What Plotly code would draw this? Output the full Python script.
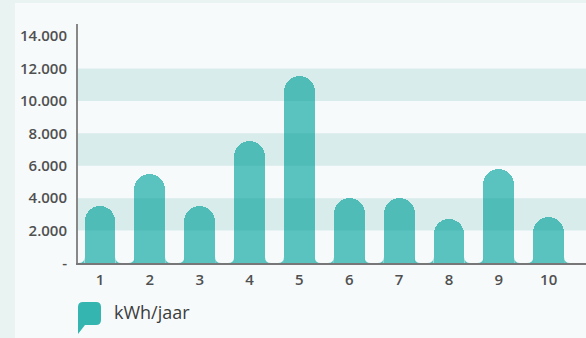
import plotly.graph_objects as go

# ---- data ----
categories = [1, 2, 3, 4, 5, 6, 7, 8, 9, 10]
category_labels = ["1", "2", "3", "4", "5", "6", "7", "8", "9", "10"]
kwh_per_year = [3530, 5470, 3530, 7530, 11560, 4030, 4030, 2720, 5780, 2840]
y_tick_values = [0, 2000, 4000, 6000, 8000, 10000, 12000, 14000]
y_tick_labels = ["-", "2.000", "4.000", "6.000", "8.000", "10.000", "12.000", "14.000"]
band_ranges = [(2000, 4000), (6000, 8000), (10000, 12000)]
series_name = "kWh/jaar"

# ---- layout geometry (pixels) ----
W, H = 586, 338
ML, MR, MT, MB = 78, 0, 24, 75
PW = W - ML - MR
PH = H - MT - MB
X_RANGE = [0.559, 10.749]
Y_RANGE = [0, 14750]
BAR_WIDTH = 0.62

TEAL = "rgb(53,181,176)"
BAR_FILL = "rgba(53,181,176,0.80)"
TEXT = "#505050"
FONT = "Open Sans"

fig = go.Figure()
fig.add_trace(go.Bar(
    x=categories, y=kwh_per_year, width=BAR_WIDTH,
    marker=dict(color=BAR_FILL, line=dict(width=0), cornerradius="50%"),
    name=series_name, showlegend=False, hoverinfo="x+y",
))

shapes = []
def px2paper(px, py):
    return (px - ML) / PW, (H - MB - py) / PH

# panel background
x0p, y0p = px2paper(15, 3)
x1p, y1p = px2paper(W + 2, H + 2)
shapes.append(dict(type="rect", xref="paper", yref="paper", x0=x0p, y0=y1p, x1=x1p, y1=y0p,
                   fillcolor="#f6fafb", line=dict(width=0), layer="below"))

# flared feet on the bars (derived from bar data positions)
r_px = 6
rx = r_px * (X_RANGE[1] - X_RANGE[0]) / PW
ry = r_px * (Y_RANGE[1] - Y_RANGE[0]) / PH
for c in categories:
    xl = c - BAR_WIDTH / 2
    xr = c + BAR_WIDTH / 2
    shapes.append(dict(type="path", xref="x", yref="y", layer="below",
                       path=f"M {xl},0 L {xl-rx},0 Q {xl},0 {xl},{ry} Z",
                       fillcolor=BAR_FILL, line=dict(width=0)))
    shapes.append(dict(type="path", xref="x", yref="y", layer="below",
                       path=f"M {xr},0 L {xr+rx},0 Q {xr},0 {xr},{ry} Z",
                       fillcolor=BAR_FILL, line=dict(width=0)))

# plot bands (drawn above, translucent)
for lo, hi in band_ranges:
    shapes.append(dict(type="rect", xref="paper", yref="y", x0=0, x1=1, y0=lo, y1=hi,
                       fillcolor="rgba(0,140,135,0.12)", line=dict(width=0), layer="above"))

# legend bubble marker
def P(px, py):
    a, b = px2paper(px, py)
    return f"{a:.5f},{b:.5f}"

bx0, by0, bx1, by1, rr = 78, 302, 101, 325, 5
bubble = (f"M {P(bx0, by0+rr)} Q {P(bx0, by0)} {P(bx0+rr, by0)} "
          f"L {P(bx1-rr, by0)} Q {P(bx1, by0)} {P(bx1, by0+rr)} "
          f"L {P(bx1, by1-rr)} Q {P(bx1, by1)} {P(bx1-rr, by1)} "
          f"L {P(bx0+7, by1)} L {P(bx0, 334)} Z")
shapes.append(dict(type="path", xref="paper", yref="paper", path=bubble,
                   fillcolor=TEAL, line=dict(width=0), layer="above"))

lx, ly = px2paper(112, 312)
annotations = [dict(xref="paper", yref="paper", x=lx, y=ly, xanchor="left", yanchor="middle",
                    text=series_name, showarrow=False,
                    font=dict(family=FONT, size=18, color="#3d3d3d", weight=500))]

fig.update_layout(
    width=W, height=H,
    margin=dict(l=ML, r=MR, t=MT, b=MB, pad=0),
    paper_bgcolor="#e9f4f2",
    plot_bgcolor="rgba(0,0,0,0)",
    shapes=shapes, annotations=annotations,
    showlegend=False, bargap=0,
    xaxis=dict(range=X_RANGE, tickmode="array", tickvals=categories, ticktext=category_labels,
               showgrid=False, zeroline=False, showline=True, linecolor="#777777", linewidth=2,
               ticks="", fixedrange=True, ticklabelstandoff=2,
               tickfont=dict(family=FONT, size=15, color=TEXT, weight=600)),
    yaxis=dict(range=Y_RANGE, tickmode="array", tickvals=y_tick_values, ticktext=y_tick_labels,
               showgrid=False, zeroline=False, showline=True, linecolor="#888888", linewidth=2,
               ticks="", fixedrange=True, ticklabelstandoff=6,
               tickfont=dict(family=FONT, size=15, color=TEXT, weight=600)),
)

fig.write_html("out.html", config={"displayModeBar": False})
